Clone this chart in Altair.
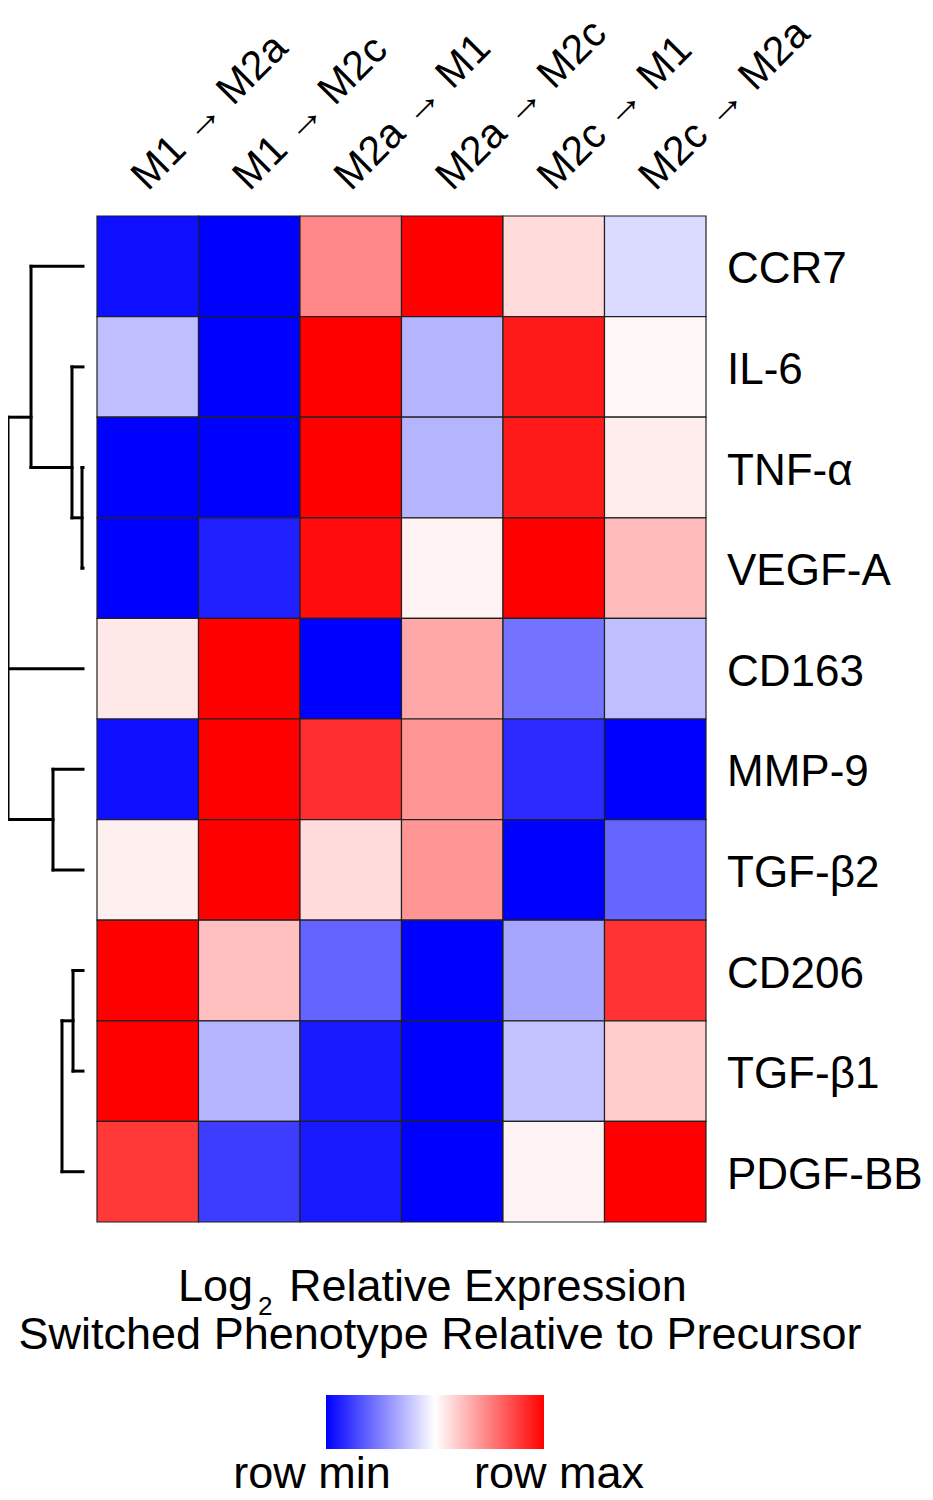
import altair as alt
import pandas as pd

# ---------------- data ----------------
genes = ["CCR7", "IL-6", "TNF-α", "VEGF-A", "CD163", "MMP-9", "TGF-β2", "CD206", "TGF-β1", "PDGF-BB"]
transitions = ["M1 → M2a", "M1 → M2c", "M2a → M1", "M2a → M2c", "M2c → M1", "M2c → M2a"]

# row-normalised log2 relative expression (-1 = row min, +1 = row max)
ccr7 = [-0.94, -1.00, 0.47, 1.00, 0.14, -0.14]
il6 = [-0.25, -1.00, 1.00, -0.29, 0.90, 0.03]
tnfa = [-1.00, -1.00, 1.00, -0.29, 0.90, 0.07]
vegfa = [-1.00, -0.88, 0.95, 0.05, 1.00, 0.27]
cd163 = [0.09, 1.00, -1.00, 0.34, -0.55, -0.25]
mmp9 = [-0.94, 1.00, 0.82, 0.42, -0.83, -1.00]
tgfb2 = [0.06, 1.00, 0.14, 0.41, -1.00, -0.60]
cd206 = [1.00, 0.25, -0.61, -1.00, -0.35, 0.80]
tgfb1 = [1.00, -0.29, -0.90, -1.00, -0.24, 0.20]
pdgfbb = [0.78, -0.76, -0.90, -1.00, 0.05, 1.00]
rows = [ccr7, il6, tnfa, vegfa, cd163, mmp9, tgfb2, cd206, tgfb1, pdgfbb]

# dendrogram (row clustering): merge nodes, their children and merge heights
node_names = ["tv", "il", "ccr", "mt", "root", "ct", "pd"]
node_children = [["TNF-α", "VEGF-A"], ["IL-6", "tv"], ["CCR7", "il"], ["MMP-9", "TGF-β2"],
                 ["ccr", "CD163", "mt"], ["CD206", "TGF-β1"], ["ct", "PDGF-BB"]]
node_heights = [0.013, 0.147, 0.693, 0.40, 1.0, 0.133, 0.28]

title_log = "Log"
title_sub = "2"
title_rest = "Relative Expression"
title_line2 = "Switched Phenotype Relative to Precursor"
legend_min = "row min"
legend_max = "row max"

# ---------------- layout (pixels) ----------------
FONT = "Liberation Sans"
W, H = 917, 1492
OX, OY = 8, 8
HM_LEFT, HM_TOP, CW, CH = 97, 216, 101.5, 100.6
TIP, ROOT = 83, 8

# ---------------- tables ----------------
recs = []
for i, (g, vals) in enumerate(zip(genes, rows)):
    for j, (t, v) in enumerate(zip(transitions, vals)):
        recs.append(dict(gene=g, transition=t, value=v, r0=i, r1=i + 1, c0=j, c1=j + 1))
df_heat = pd.DataFrame(recs)

ypos = {g: i + 0.5 for i, g in enumerate(genes)}
hpos = {g: 0.0 for g in genes}
leaves = {g: [g] for g in genes}
segs = []
for name, kids, h in zip(node_names, node_children, node_heights):
    lv = sum((leaves[k] for k in kids), [])
    leaves[name] = lv
    ypos[name] = sum(ypos[l] for l in lv) / len(lv)
    hpos[name] = h
    ys_k = [ypos[k] for k in kids]
    segs.append(dict(h1=h, h2=h, y1=min(ys_k), y2=max(ys_k)))
    for k in kids:
        segs.append(dict(h1=hpos[k], h2=h, y1=ypos[k], y2=ypos[k]))
df_seg = pd.DataFrame(segs)

df_rows = pd.DataFrame({"gene": genes, "rc": [i + 0.5 for i in range(len(genes))]})
df_cols = pd.DataFrame({"transition": transitions, "cc": [j + 0.5 for j in range(len(transitions))]})

# ---------------- scales ----------------
xs = alt.Scale(domain=[-(HM_LEFT - OX) / CW, (W - (HM_LEFT - OX)) / CW], nice=False, zero=False)
ys = alt.Scale(domain=[-(HM_TOP - OY) / CH, (H - (HM_TOP - OY)) / CH], nice=False, zero=False, reverse=True)
span = TIP - ROOT
hs = alt.Scale(domain=[1 - (W - (ROOT - OX)) / span, 1 + (ROOT - OX) / span], nice=False, zero=False, reverse=True)
cscale = alt.Scale(domain=[-1, 0, 1], range=["#0000ff", "#ffffff", "#ff0000"], interpolate="rgb")

legend = alt.Legend(
    orient="none", legendX=326 - OX, legendY=1395 - OY, direction="horizontal", title=None,
    values=[-1, 1], labelOpacity=0, labelFontSize=1,
    gradientLength=218, gradientThickness=54, gradientStrokeWidth=0, padding=0,
)

heat = alt.Chart(df_heat).mark_rect(stroke="#202020", strokeWidth=1.2).encode(
    x=alt.X("c0:Q", scale=xs, axis=None), x2="c1:Q",
    y=alt.Y("r0:Q", scale=ys, axis=None), y2="r1:Q",
    color=alt.Color("value:Q", scale=cscale, legend=legend),
    tooltip=["gene:N", "transition:N", "value:Q"],
)

dendro = alt.Chart(df_seg).mark_rule(color="black", strokeWidth=3, strokeCap="square").encode(
    x=alt.X("h1:Q", scale=hs, axis=None), x2="h2:Q",
    y=alt.Y("y1:Q", scale=ys, axis=None), y2="y2:Q",
)

rowlab = alt.Chart(df_rows).mark_text(align="left", baseline="middle", fontSize=44, font=FONT,
                                      color="black", dy=4).encode(
    x=alt.value(727 - OX), y=alt.Y("rc:Q", scale=ys, axis=None), text="gene:N")

collab = alt.Chart(df_cols).mark_text(align="left", baseline="alphabetic", angle=315, fontSize=41,
                                      font=FONT, color="black").encode(
    x=alt.X("cc:Q", scale=xs, axis=None), y=alt.value(192 - OY), text="transition:N")


def label(txt, x, y, size, align):
    return alt.Chart(pd.DataFrame({"t": [txt]})).mark_text(
        align=align, baseline="alphabetic", fontSize=size, font=FONT, color="black"
    ).encode(x=alt.value(x - OX), y=alt.value(y - OY), text="t:N")


t1 = label(title_log, 253, 1301, 45, "right")
t2 = label(title_sub, 258, 1315, 26, "left")
t3 = label(title_rest, 289, 1301, 45, "left")
t4 = label(title_line2, 440, 1349, 45, "center")
l1 = label(legend_min, 312, 1488, 45, "center")
l2 = label(legend_max, 559, 1488, 45, "center")

chart = alt.layer(heat, dendro, rowlab, collab, t1, t2, t3, t4, l1, l2).resolve_scale(
    x="independent"
).properties(
    width=W, height=H, padding=0, autosize=alt.AutoSizeParams(type="none")
).configure_view(stroke=None)

chart.save("out.html", embed_options={"renderer": "svg", "actions": False})
